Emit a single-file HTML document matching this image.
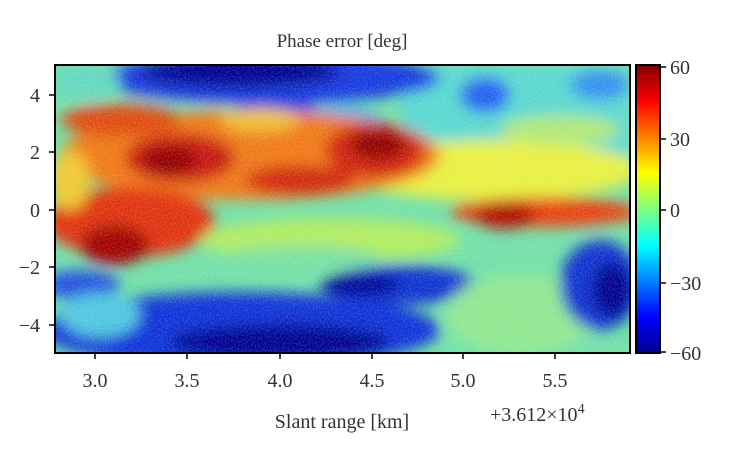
<!DOCTYPE html>
<html><head><meta charset="utf-8"><style>
body{margin:0;background:#fff;}
svg text{font-family:"Liberation Serif",serif;fill:#333;}
</style></head><body>
<svg width="740" height="448" viewBox="0 0 740 448" xmlns="http://www.w3.org/2000/svg">
<defs>
<clipPath id="c"><rect x="55" y="65" width="575" height="288"/></clipPath>
<filter id="b" x="-20%" y="-20%" width="140%" height="140%"><feGaussianBlur stdDeviation="7"/></filter>
<filter id="n"><feTurbulence type="fractalNoise" baseFrequency="0.6" numOctaves="1" seed="3"/><feColorMatrix values="0 0 0 0 1  0 0 0 0 1  0 0 0 0 1  0 0 0 1.2 -0.45"/></filter>
<linearGradient id="jet" x1="0" y1="1" x2="0" y2="0">
<stop offset="0" stop-color="#00008f"/><stop offset="0.125" stop-color="#0000ff"/><stop offset="0.375" stop-color="#00ffff"/><stop offset="0.625" stop-color="#ffff00"/><stop offset="0.875" stop-color="#ff0000"/><stop offset="1" stop-color="#800000"/>
</linearGradient>
</defs>
<text x="342" y="47" font-size="19" text-anchor="middle">Phase error [deg]</text>
<g clip-path="url(#c)">
<rect x="55" y="65" width="575" height="288" fill="#70e0a8"/>
<g filter="url(#b)">
<rect x="400" y="65" width="230" height="90" fill="#58d8d0"/>
<ellipse cx="270" cy="78" rx="170" ry="26" fill="#1838e0"/>
<ellipse cx="240" cy="72" rx="100" ry="16" fill="#000090"/>
<ellipse cx="275" cy="112" rx="40" ry="20" fill="#1040e0"/>
<ellipse cx="340" cy="120" rx="40" ry="14" fill="#40a8f0"/>
<ellipse cx="485" cy="95" rx="25" ry="18" fill="#2060f0"/>
<ellipse cx="600" cy="85" rx="30" ry="15" fill="#3090f0"/>
<ellipse cx="85" cy="82" rx="35" ry="18" fill="#60d8c0"/>
<ellipse cx="490" cy="170" rx="150" ry="30" fill="#e8f040"/>
<ellipse cx="560" cy="130" rx="60" ry="15" fill="#b0e878"/>
<ellipse cx="250" cy="155" rx="190" ry="45" fill="#f07818"/>
<ellipse cx="120" cy="120" rx="60" ry="16" fill="#e04810"/>
<ellipse cx="180" cy="158" rx="55" ry="25" fill="#c81808"/>
<ellipse cx="170" cy="160" rx="28" ry="14" fill="#900000"/>
<ellipse cx="375" cy="150" rx="50" ry="28" fill="#d02008"/>
<ellipse cx="378" cy="145" rx="28" ry="15" fill="#900000"/>
<ellipse cx="300" cy="180" rx="55" ry="15" fill="#d02808"/>
<ellipse cx="260" cy="120" rx="40" ry="12" fill="#f0c030"/>
<ellipse cx="130" cy="222" rx="85" ry="35" fill="#e03010"/>
<ellipse cx="115" cy="245" rx="35" ry="20" fill="#a00000"/>
<ellipse cx="70" cy="180" rx="20" ry="30" fill="#f0c830"/>
<ellipse cx="545" cy="212" rx="95" ry="15" fill="#e84010"/>
<ellipse cx="505" cy="215" rx="30" ry="14" fill="#b00800"/>
<ellipse cx="330" cy="240" rx="130" ry="22" fill="#b0ec60"/>
<ellipse cx="300" cy="258" rx="80" ry="12" fill="#78e0a0"/>
<ellipse cx="240" cy="330" rx="200" ry="38" fill="#1030d8"/>
<ellipse cx="280" cy="342" rx="110" ry="18" fill="#000090"/>
<ellipse cx="80" cy="285" rx="40" ry="15" fill="#2050e0"/>
<ellipse cx="100" cy="315" rx="40" ry="22" fill="#50c8e0"/>
<ellipse cx="400" cy="285" rx="75" ry="20" fill="#1030d0"/>
<ellipse cx="360" cy="285" rx="40" ry="12" fill="#000098"/>
<ellipse cx="520" cy="315" rx="75" ry="40" fill="#90e890"/>
<ellipse cx="600" cy="285" rx="40" ry="45" fill="#1030d0"/>
<ellipse cx="612" cy="290" rx="20" ry="28" fill="#000090"/>
</g>
<rect x="55" y="65" width="575" height="288" filter="url(#n)" opacity="0.35"/>
</g>
<rect x="55" y="65" width="575" height="288" fill="none" stroke="#000" stroke-width="2"/>
<rect x="636" y="65" width="24" height="288" fill="url(#jet)" stroke="#000" stroke-width="2"/>
<g stroke="#000" stroke-width="1.5">
<line x1="49" y1="95" x2="55" y2="95"/><line x1="49" y1="152" x2="55" y2="152"/><line x1="49" y1="210" x2="55" y2="210"/><line x1="49" y1="267" x2="55" y2="267"/><line x1="49" y1="325" x2="55" y2="325"/>
<line x1="95" y1="353" x2="95" y2="359"/><line x1="187" y1="353" x2="187" y2="359"/><line x1="280" y1="353" x2="280" y2="359"/><line x1="372" y1="353" x2="372" y2="359"/><line x1="463" y1="353" x2="463" y2="359"/><line x1="555" y1="353" x2="555" y2="359"/>
<line x1="660" y1="67" x2="666" y2="67"/><line x1="660" y1="139" x2="666" y2="139"/><line x1="660" y1="210" x2="666" y2="210"/><line x1="660" y1="283" x2="666" y2="283"/><line x1="660" y1="352" x2="666" y2="352"/>
</g>
<g font-size="20" text-anchor="end">
<text x="40" y="102">4</text><text x="40" y="159">2</text><text x="40" y="217">0</text><text x="40" y="274">−2</text><text x="40" y="332">−4</text>
</g>
<g font-size="20" text-anchor="middle">
<text x="95" y="387">3.0</text><text x="187" y="387">3.5</text><text x="280" y="387">4.0</text><text x="372" y="387">4.5</text><text x="463" y="387">5.0</text><text x="555" y="387">5.5</text>
</g>
<g font-size="20">
<text x="670" y="74">60</text><text x="670" y="146">30</text><text x="670" y="217">0</text><text x="670" y="290">−30</text><text x="670" y="360">−60</text>
</g>
<text x="342" y="428" font-size="20" text-anchor="middle">Slant range [km]</text>
<text x="490" y="421" font-size="20">+3.612×10<tspan font-size="14" dy="-8">4</tspan></text>
</svg>
</body></html>
